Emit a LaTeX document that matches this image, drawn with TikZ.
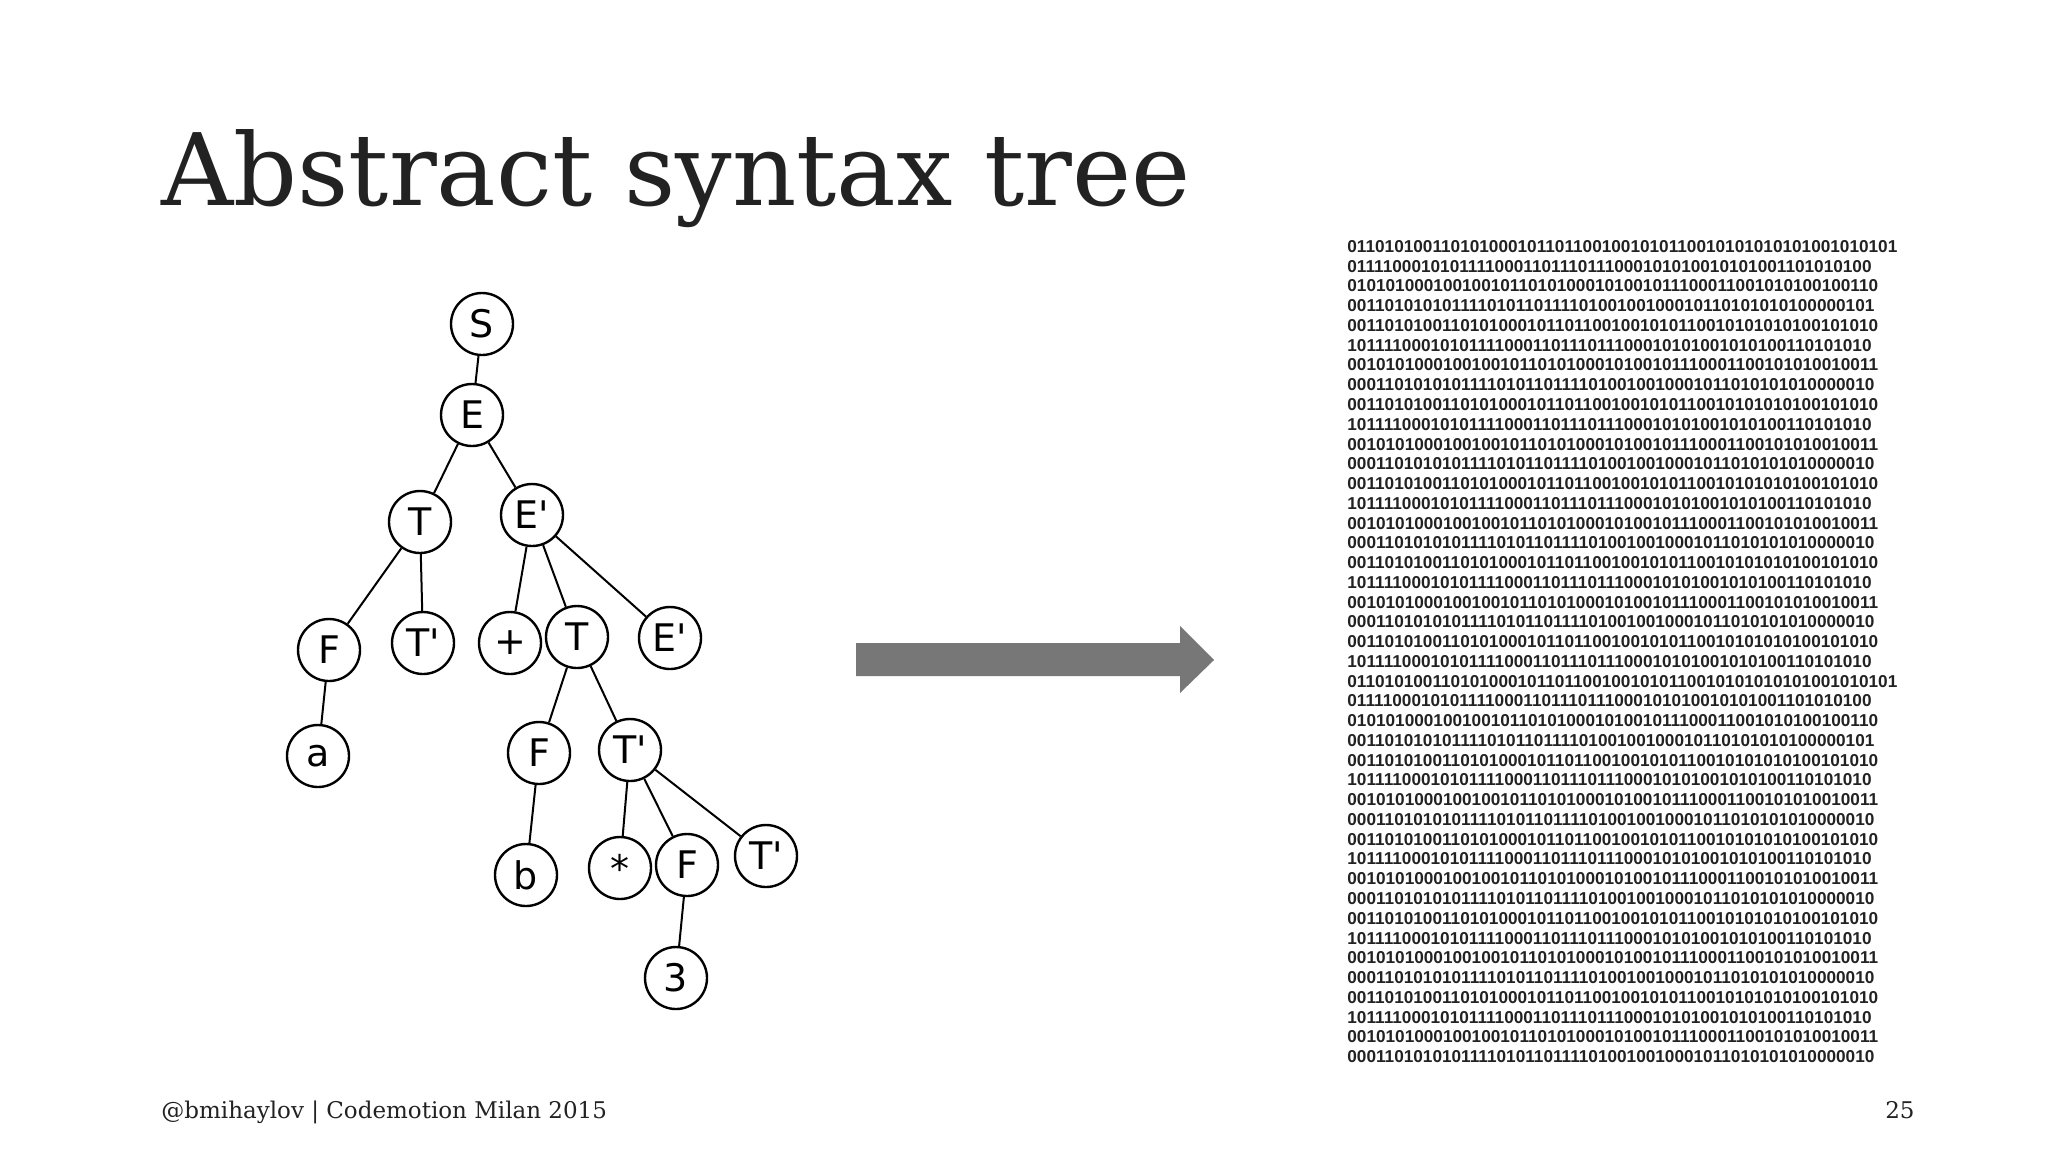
\documentclass[tikz,border=0pt]{standalone}
\usepackage{fontspec}
\setmainfont{DejaVu Serif}
\newfontfamily\binfont{Liberation Sans}
\newfontfamily\handfont{DejaVu Sans}
\definecolor{ink}{HTML}{222222}
\definecolor{arrowgray}{HTML}{777777}
\begin{document}
\begin{tikzpicture}[x=0.5pt,y=-0.5pt,
  tn/.style={circle,draw=black,line width=1.2pt,minimum size=31pt,inner sep=0pt,font=\handfont\fontsize{19}{19}\selectfont},
  edge/.style={line width=1pt}]
\useasboundingbox (0,0) rectangle (2048,1152);
\fill[white] (0,0) rectangle (2048,1152);
\node[anchor=base west,text=ink,font=\fontsize{50}{56}\selectfont,inner sep=0] (title) at (161,205) {Abstract syntax tree};
\node[anchor=base west,text=ink,font=\fontsize{11.5}{13}\selectfont,inner sep=0] (foot) at (161,1118) {@bmihaylov | Codemotion Milan 2015};
\node[anchor=base east,text=ink,font=\fontsize{11.5}{13}\selectfont,inner sep=0] (page) at (1915,1118) {25};
% tree
\node[tn] (S) at (482,324) {S};
\node[tn] (E) at (472,415) {E};
\node[tn] (T1) at (420,522) {T};
\node[tn] (Ep1) at (532,515) {E'};
\node[tn] (F1) at (329,650) {F};
\node[tn] (Tp1) at (423,643) {T'};
\node[tn] (plus) at (510,643) {+};
\node[tn] (T2) at (577,637) {T};
\node[tn] (Ep2) at (670,638) {E'};
\node[tn] (a) at (318,756) {a};
\node[tn] (F2) at (539,753) {F};
\node[tn] (Tp2) at (630,750) {T'};
\node[tn] (b) at (526,875) {b};
\node[tn] (star) at (620,868) {*};
\node[tn] (F3) at (687,865) {F};
\node[tn] (Tp3) at (766,856) {T'};
\node[tn] (three) at (676,978) {3};
\foreach \p/\c in {S/E,E/T1,E/Ep1,T1/F1,T1/Tp1,Ep1/plus,Ep1/T2,Ep1/Ep2,F1/a,T2/F2,T2/Tp2,F2/b,Tp2/star,Tp2/F3,Tp2/Tp3,F3/three}
  \draw[edge] (\p) -- (\c);
% arrow
\coordinate (as) at (856,660);
\coordinate (at) at (1214,660);
\fill[arrowgray] (856,643) -- (1180,643) -- (1180,626) -- (at) -- (1180,693) -- (1180,676) -- (856,676) -- cycle;
% binary
\node[anchor=north west,inner sep=0,align=left,font=\binfont\bfseries\fontsize{8.6}{9.88}\selectfont,text=ink] (bin) at (1347,240) {%
0110101001101010001011011001001010110010101010101001010101\\
01111000101011110001101110111000101010010101001101010100\\
01010100010010010110101000101001011100011001010100100110\\
00110101010111101011011110100100100010110101010100000101\\
00110101001101010001011011001001010110010101010100101010\\
10111100010101111000110111011100010101001010100110101010\\
00101010001001001011010100010100101110001100101010010011\\
00011010101011110101101111010010010001011010101010000010\\
00110101001101010001011011001001010110010101010100101010\\
10111100010101111000110111011100010101001010100110101010\\
00101010001001001011010100010100101110001100101010010011\\
00011010101011110101101111010010010001011010101010000010\\
00110101001101010001011011001001010110010101010100101010\\
10111100010101111000110111011100010101001010100110101010\\
00101010001001001011010100010100101110001100101010010011\\
00011010101011110101101111010010010001011010101010000010\\
00110101001101010001011011001001010110010101010100101010\\
10111100010101111000110111011100010101001010100110101010\\
00101010001001001011010100010100101110001100101010010011\\
00011010101011110101101111010010010001011010101010000010\\
00110101001101010001011011001001010110010101010100101010\\
10111100010101111000110111011100010101001010100110101010\\
0110101001101010001011011001001010110010101010101001010101\\
01111000101011110001101110111000101010010101001101010100\\
01010100010010010110101000101001011100011001010100100110\\
00110101010111101011011110100100100010110101010100000101\\
00110101001101010001011011001001010110010101010100101010\\
10111100010101111000110111011100010101001010100110101010\\
00101010001001001011010100010100101110001100101010010011\\
00011010101011110101101111010010010001011010101010000010\\
00110101001101010001011011001001010110010101010100101010\\
10111100010101111000110111011100010101001010100110101010\\
00101010001001001011010100010100101110001100101010010011\\
00011010101011110101101111010010010001011010101010000010\\
00110101001101010001011011001001010110010101010100101010\\
10111100010101111000110111011100010101001010100110101010\\
00101010001001001011010100010100101110001100101010010011\\
00011010101011110101101111010010010001011010101010000010\\
00110101001101010001011011001001010110010101010100101010\\
10111100010101111000110111011100010101001010100110101010\\
00101010001001001011010100010100101110001100101010010011\\
00011010101011110101101111010010010001011010101010000010};
\end{tikzpicture}
\end{document}
